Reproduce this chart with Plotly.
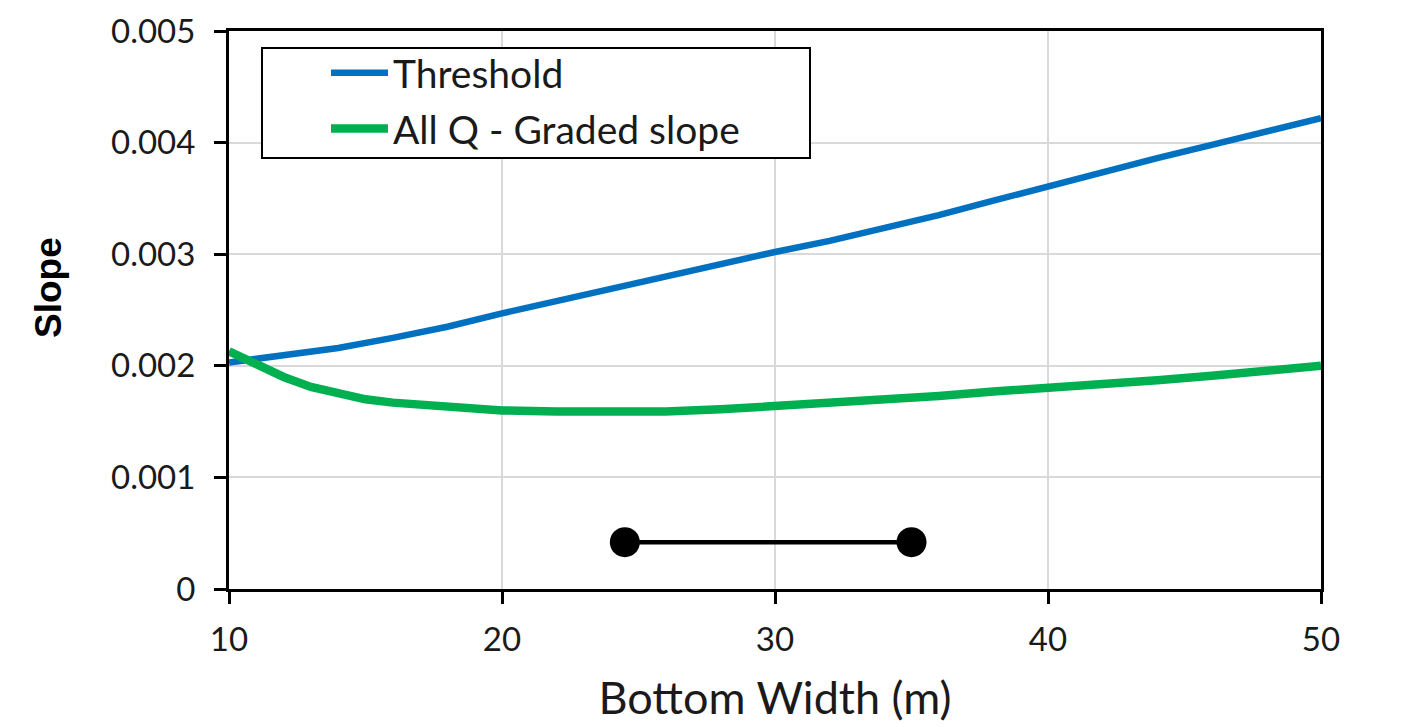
import plotly.graph_objects as go

# ---- data ----
width_threshold = [10, 12, 14, 16, 18, 20, 22, 24, 26, 28, 30, 32, 34, 36, 38, 40, 42, 44, 46, 48, 50]
slope_threshold = [0.00203, 0.00209, 0.00216, 0.00225, 0.00235, 0.00247, 0.00258, 0.00269, 0.00281, 0.00292,
                   0.00302, 0.00312, 0.00323, 0.00335, 0.00348, 0.00361, 0.00374, 0.00386, 0.00398, 0.00410, 0.00422]

width_graded = [10, 11, 12, 13, 14, 15, 16, 17, 18, 19, 20, 22, 24, 26, 28, 30, 32, 34, 36, 38, 40, 42, 44, 46, 48, 50]
slope_graded = [0.00213, 0.00201, 0.00190, 0.00181, 0.00175, 0.00170, 0.00167, 0.00165, 0.00163, 0.00161, 0.00160,
                0.00159, 0.00159, 0.00159, 0.00161, 0.00164, 0.00166, 0.00169, 0.00173, 0.00177, 0.00180, 0.00183,
                0.00187, 0.00191, 0.00195, 0.00200]

range_width = [24.5, 35.0]
range_slope = [0.00042, 0.00042]

x_ticks = [10, 20, 30, 40, 50]
y_ticks = [0, 0.001, 0.002, 0.003, 0.004, 0.005]
y_ticklabels = ["0", "0.001", "0.002", "0.003", "0.004", "0.005"]

# ---- layout geometry (pixels, page coordinates; figure sits 8px in from page corner) ----
OFF = 8
W, H = 1394, 719
ML, MR, MT, MB = 221, 81, 23, 138
PW, PH = W - ML - MR, H - MT - MB


def px(x):
    return (x - OFF - ML) / PW


def py(y):
    return (H - MB - (y - OFF)) / PH


FONT = "Lato, 'Open Sans', sans-serif"

fig = go.Figure()
fig.add_trace(go.Scatter(x=width_threshold, y=slope_threshold, mode="lines", name="Threshold",
                         line=dict(color="#0070C0", width=6.5), legendgroup="a"))
fig.add_trace(go.Scatter(x=width_graded, y=slope_graded, mode="lines", name="All Q - Graded slope",
                         line=dict(color="#00B050", width=8.5), legendgroup="b"))
fig.add_trace(go.Scatter(x=range_width, y=range_slope, mode="lines+markers", showlegend=False,
                         line=dict(color="black", width=4.5), marker=dict(color="black", size=30)))

axis_common = dict(showline=True, linecolor="black", linewidth=3, mirror=True,
                   ticks="outside", ticklen=12, tickwidth=3, tickcolor="black",
                   showgrid=True, gridcolor="#D9D9D9", gridwidth=1.5, zeroline=False,
                   automargin=False,
                   tickfont=dict(family=FONT, size=33, color="#1a1a1a"))

fig.update_xaxes(range=[10, 50], tickvals=x_ticks, ticklabelstandoff=7,
                 title=dict(text="Bottom Width (m)", font=dict(family=FONT, size=45, color="#1a1a1a"), standoff=26),
                 **axis_common)
fig.update_yaxes(range=[0, 0.005], tickvals=y_ticks, ticktext=y_ticklabels, ticklabelstandoff=12,
                 **axis_common)

shapes = [
    # legend frame
    dict(type="rect", xref="paper", yref="paper", x0=px(262), x1=px(810), y0=py(158), y1=py(48),
         line=dict(color="black", width=2), fillcolor="white", layer="above"),
]

fig.update_layout(
    width=W, height=H,
    margin=dict(l=ML, r=MR, t=MT, b=MB, pad=0, autoexpand=False),
    paper_bgcolor="white", plot_bgcolor="white",
    showlegend=True,
    legend=dict(x=px(326), y=py(41), xanchor="left", yanchor="top",
                bgcolor="rgba(0,0,0,0)", borderwidth=0, itemwidth=57, tracegroupgap=2,
                font=dict(family=FONT, size=39, color="#1a1a1a")),
    shapes=shapes,
    annotations=[dict(text="<b>Slope</b>", xref="paper", yref="paper", x=px(48), y=py(288),
                      xanchor="center", yanchor="middle",
                      showarrow=False, textangle=-90,
                      font=dict(family="'Liberation Sans', Arial, sans-serif", size=37, color="black"))],
)

fig.write_html("out.html")
